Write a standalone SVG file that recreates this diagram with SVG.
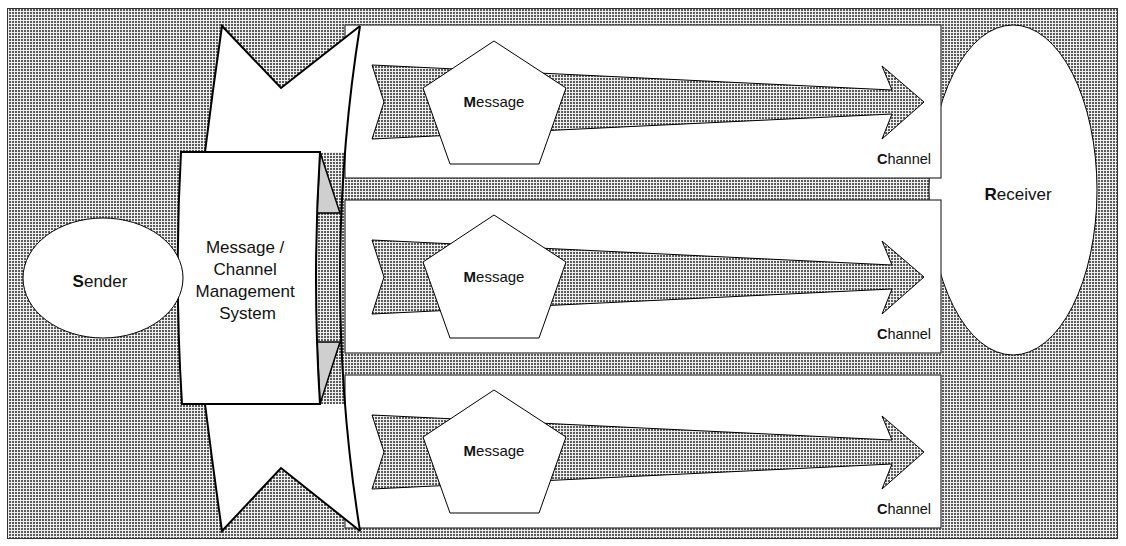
<svg xmlns="http://www.w3.org/2000/svg" width="1126" height="546" viewBox="0 0 1126 546">
<style>
.t{font-family:"Liberation Sans",Arial,sans-serif;fill:#111}
.b{font-weight:bold}
.shape{fill:#fff;stroke:#000}
.rect{fill:#fff;stroke:#333;stroke-width:1.2}
.arrow{fill:url(#hatch);stroke:#000;stroke-width:1}
.pent{fill:#fff;stroke:#000;stroke-width:1}
.fold{fill:#cfcfcf;stroke:#000;stroke-width:1.5;stroke-linejoin:miter}
.line{fill:none;stroke:#000;stroke-width:2}
</style>
<defs>
<pattern id="hatch" width="3" height="3" patternUnits="userSpaceOnUse">
<rect width="3" height="3" fill="#eeeeee"/>
<rect width="2" height="2" fill="#5a5a5a"/>
</pattern>
</defs>
<rect x="7.5" y="8.5" width="1110" height="530" fill="url(#hatch)" stroke="#333" stroke-width="1"/>

<g id="receiver">
<ellipse cx="1013" cy="190" rx="84" ry="165" class="shape" stroke-width="1"/>
<text class="t" x="1018" y="200" font-size="17" text-anchor="middle"><tspan class="b">R</tspan>eceiver</text>
</g>

<g id="channel1">
<rect x="345" y="25" width="596" height="153" class="rect"/>
<text class="t" x="931" y="164" font-size="14.5" text-anchor="end"><tspan class="b">C</tspan>hannel</text>
</g>
<g id="channel2">
<rect x="345" y="200" width="596" height="153" class="rect"/>
<text class="t" x="931" y="339" font-size="14.5" text-anchor="end"><tspan class="b">C</tspan>hannel</text>
</g>
<g id="channel3">
<rect x="345" y="375" width="596" height="153" class="rect"/>
<text class="t" x="931" y="514" font-size="14.5" text-anchor="end"><tspan class="b">C</tspan>hannel</text>
</g>

<g id="connectors">
<polygon class="arrow" points="372,65 892,90 882,66 924,102 882,139 892,114 372,139 384,102"/>
<polygon class="arrow" points="372,240 892,265 882,241 924,277 882,314 892,289 372,314 384,277"/>
<polygon class="arrow" points="372,415 892,440 882,416 924,452 882,489 892,464 372,489 384,452"/>
</g>

<g id="message1">
<polygon class="pent" points="494,41 566,88 539,164 450,164 423,88"/>
<text class="t" x="494" y="107" font-size="15" text-anchor="middle"><tspan class="b">M</tspan>essage</text>
</g>
<g id="message2">
<polygon class="pent" points="494,215 566,262 539,338 450,338 423,262"/>
<text class="t" x="494" y="282" font-size="15" text-anchor="middle"><tspan class="b">M</tspan>essage</text>
</g>
<g id="message3">
<polygon class="pent" points="494,390 566,437 539,513 450,513 423,437"/>
<text class="t" x="494" y="456" font-size="15" text-anchor="middle"><tspan class="b">M</tspan>essage</text>
</g>

<g id="mcms">
<path d="M222,26 L281,88 L360,26 Q350,89 345,152 L205,152 Q213,88 222,26 Z" fill="#fff"/>
<path d="M222,531 L281,468 L360,531 Q350,467 345,404 L205,404 Q213,468 222,531 Z" fill="#fff"/>
<path class="line" d="M205,152 Q213,88 222,26 L281,88 L360,26"/>
<path class="line" d="M205,404 Q213,468 222,531 L281,468 L360,531"/>
<path class="line" d="M360,26 Q320,278 360,531"/>
<polygon class="fold" points="320,152 340,213 317,213"/>
<polygon class="fold" points="317,342 340,342 320,404"/>
<path d="M181,152 L320,152 Q312,278 320,404 L182,404 Q174,278 181,152 Z" fill="#fff" stroke="#000" stroke-width="2"/>
<text class="t" font-size="17" text-anchor="middle">
<tspan x="247.5" y="253">Message /</tspan>
<tspan x="247.5" y="275">Channel</tspan>
<tspan x="247.5" y="297">Management</tspan>
<tspan x="247.5" y="319">System</tspan>
</text>
</g>

<g id="sender">
<ellipse cx="103" cy="278" rx="80" ry="60" class="shape" stroke-width="1"/>
<text class="t" x="100" y="287" font-size="17" text-anchor="middle"><tspan class="b">S</tspan>ender</text>
</g>
</svg>
